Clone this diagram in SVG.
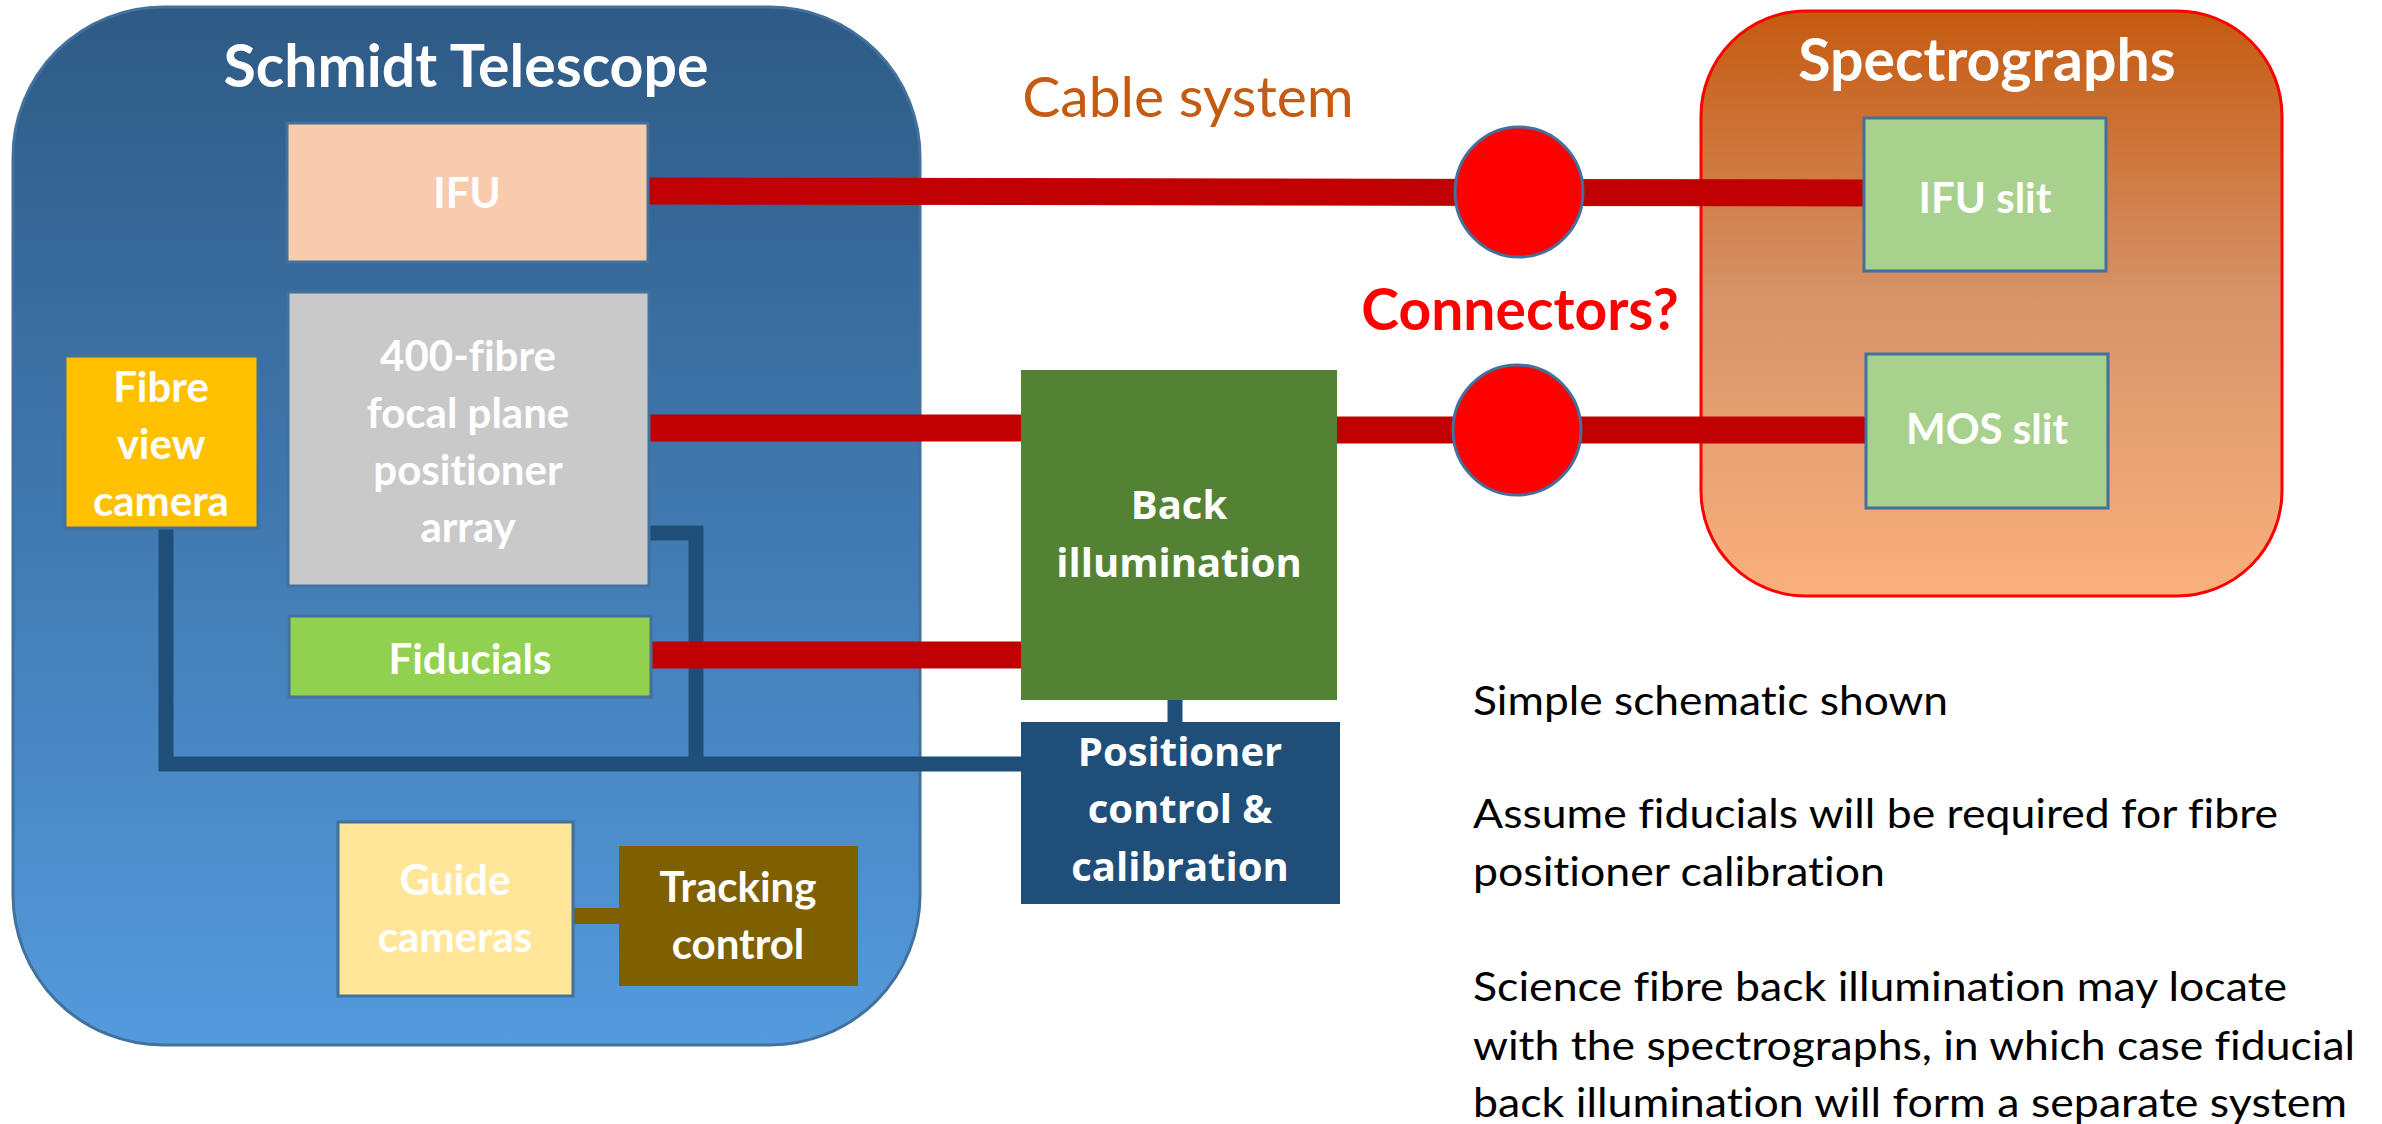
<svg xmlns="http://www.w3.org/2000/svg" width="2382" height="1124" viewBox="0 0 2382 1124">
  <defs>
    <linearGradient id="gTel" x1="0" y1="0" x2="0" y2="1">
      <stop offset="0" stop-color="#2E5A85"/>
      <stop offset="1" stop-color="#549ADD"/>
    </linearGradient>
    <linearGradient id="gSpec" x1="0" y1="0" x2="0" y2="1">
      <stop offset="0" stop-color="#C55A11"/>
      <stop offset="0.5" stop-color="#D7946A"/>
      <stop offset="1" stop-color="#F9B07C"/>
    </linearGradient>
    <style>
      text { font-variant-ligatures: none; }
      .lbl { font-family: Lato, "Open Sans", sans-serif; font-weight: bold; fill: #FFFFFF; text-anchor: middle; font-size: 42px; }
      .lbl2 { font-family: "Open Sans", Lato, sans-serif; font-weight: bold; fill: #FFFFFF; text-anchor: middle; font-size: 40px; }
      .title { font-family: Lato, "Open Sans", sans-serif; font-weight: bold; fill: #FFFFFF; text-anchor: middle; font-size: 59px; }
      .note { font-family: Lato, "Open Sans", sans-serif; fill: #000000; font-size: 40px; }
      .box { stroke: #41719C; stroke-width: 3; }
      .red { stroke: #C00000; stroke-width: 27; fill: none; stroke-linecap: butt; }
      .navy { stroke: #1F4E79; stroke-width: 15; fill: none; stroke-linejoin: miter; stroke-linecap: butt; }
    </style>
  </defs>
  <rect width="2382" height="1124" fill="#FFFFFF"/>

  <g id="schmidt-telescope">
    <rect x="13" y="7" width="907" height="1038" rx="150" ry="150" fill="url(#gTel)" stroke="#41719C" stroke-width="3"/>
    <text class="title" x="466" y="87">Schmidt Telescope</text>
  </g>

  <g id="spectrographs">
    <rect x="1701" y="11" width="581" height="585" rx="105" ry="105" fill="url(#gSpec)" stroke="#FF0000" stroke-width="3"/>
    <text class="title" x="1987" y="81">Spectrographs</text>
  </g>

  <g id="cable-system-label">
    <text x="1188" y="117" font-family="Lato, 'Open Sans', sans-serif" font-size="57" fill="#C55A11" text-anchor="middle">Cable system</text>
  </g>
  <g id="connectors-label">
    <text x="1520" y="330" font-family="Lato, 'Open Sans', sans-serif" font-weight="bold" font-size="57" fill="#FF0000" text-anchor="middle">Connectors?</text>
  </g>

  <g id="connectors">
    <path class="red" d="M 648 191 L 1864 193"/>
    <path class="red" d="M 649 428 H 1021"/>
    <path class="red" d="M 1337 430 H 1866"/>
    <path class="navy" d="M 166 528 V 764 H 1021"/>
    <path class="navy" d="M 649 533 H 696 V 764"/>
    <path class="red" d="M 648 655 H 1021"/>
    <path class="navy" d="M 1175 700 V 722"/>
    <path d="M 573 916 H 619" stroke="#7F6000" stroke-width="16" fill="none"/>
  </g>

  <g id="ifu">
    <rect class="box" x="287" y="123" width="361" height="139" fill="#F8CBAD"/>
    <text class="lbl" x="467" y="208">IFU</text>
  </g>

  <g id="fibre-positioner-array">
    <rect class="box" x="288" y="292" width="361" height="294" fill="#C9C9C9"/>
    <text class="lbl" x="468" y="371">400-fibre</text>
    <text class="lbl" x="468" y="428">focal plane</text>
    <text class="lbl" x="468" y="485">positioner</text>
    <text class="lbl" x="468" y="542">array</text>
  </g>

  <g id="fibre-view-camera">
    <rect class="box" x="65" y="356" width="193" height="172" fill="#FFC000"/>
    <text class="lbl" x="161" y="402">Fibre</text>
    <text class="lbl" x="161" y="459">view</text>
    <text class="lbl" x="161" y="516">camera</text>
  </g>

  <g id="fiducials">
    <rect class="box" x="289" y="616" width="362" height="81" fill="#92D050"/>
    <text class="lbl" x="470" y="674">Fiducials</text>
  </g>

  <g id="guide-cameras">
    <rect class="box" x="338" y="822" width="235" height="174" fill="#FFE699"/>
    <text class="lbl" x="455" y="895">Guide</text>
    <text class="lbl" x="455" y="952">cameras</text>
  </g>

  <g id="tracking-control">
    <rect x="619" y="846" width="239" height="140" fill="#7F6000"/>
    <text class="lbl" x="738" y="902">Tracking</text>
    <text class="lbl" x="738" y="959">control</text>
  </g>

  <g id="back-illumination">
    <rect x="1021" y="370" width="316" height="330" fill="#548235"/>
    <text class="lbl2" x="1179" y="519">Back</text>
    <text class="lbl2" x="1179" y="577">illumination</text>
  </g>

  <g id="positioner-control">
    <rect x="1021" y="722" width="319" height="182" fill="#1F4E79"/>
    <text class="lbl2" x="1180" y="766">Positioner</text>
    <text class="lbl2" x="1180" y="823">control &amp;</text>
    <text class="lbl2" x="1180" y="881">calibration</text>
  </g>

  <g id="connector-ifu">
    <ellipse cx="1519" cy="192" rx="64" ry="65" fill="#FF0000" stroke="#41719C" stroke-width="3"/>
  </g>
  <g id="connector-mos">
    <ellipse cx="1517" cy="430" rx="64" ry="65" fill="#FF0000" stroke="#41719C" stroke-width="3"/>
  </g>

  <g id="ifu-slit">
    <rect class="box" x="1864" y="118" width="242" height="153" fill="#A9D18E"/>
    <text class="lbl" x="1985" y="213">IFU slit</text>
  </g>

  <g id="mos-slit">
    <rect class="box" x="1866" y="354" width="242" height="154" fill="#A9D18E"/>
    <text class="lbl" x="1987" y="444">MOS slit</text>
  </g>

  <g id="notes">
    <text class="note" x="1473" y="715" textLength="475" lengthAdjust="spacingAndGlyphs">Simple schematic shown</text>
    <text class="note" x="1473" y="828" textLength="805" lengthAdjust="spacingAndGlyphs">Assume fiducials will be required for fibre</text>
    <text class="note" x="1473" y="886" textLength="412" lengthAdjust="spacingAndGlyphs">positioner calibration</text>
    <text class="note" x="1473" y="1001" textLength="814" lengthAdjust="spacingAndGlyphs">Science fibre back illumination may locate</text>
    <text class="note" x="1473" y="1060" textLength="882" lengthAdjust="spacingAndGlyphs">with the spectrographs, in which case fiducial</text>
    <text class="note" x="1473" y="1117" textLength="874" lengthAdjust="spacingAndGlyphs">back illumination will form a separate system</text>
  </g>
</svg>
